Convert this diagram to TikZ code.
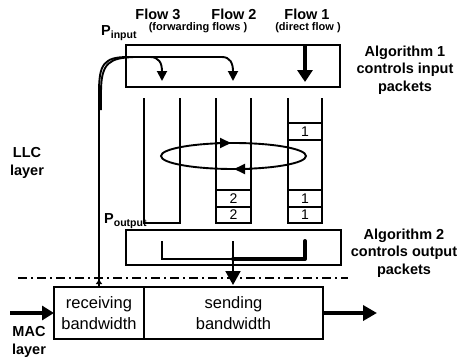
\documentclass[tikz,border=0pt]{standalone}
\usepackage{fontspec}
\setmainfont{Liberation Sans}
\usetikzlibrary{arrows.meta}
\begin{document}
\begin{tikzpicture}[x=1pt,y=-1pt,
  box/.style={draw, line width=2pt, inner sep=0pt, outer sep=0pt, anchor=north west},
  qline/.style={line width=1.9pt},
  lbl/.style={font=\bfseries\fontsize{14.5}{17.5}\selectfont, align=center, inner sep=0pt},
  sublbl/.style={font=\bfseries\fontsize{11}{12}\selectfont, inner sep=0pt},
  cell/.style={font=\fontsize{14}{14}\selectfont, inner sep=0pt},
  bw/.style={font=\fontsize{16.5}{21}\selectfont, align=center, inner sep=0pt},
  flowarrow/.style={line width=1.9pt, -{Triangle[length=10pt,width=10pt]}},
  bigarrow/.style={line width=4pt, -{Triangle[length=13pt,width=14pt]}}
]
\useasboundingbox (0,0) rectangle (458,359);

% boxes
\node[box, minimum width=214pt, minimum height=42pt] (alg1) at (126,45) {};
\node[box, minimum width=215pt, minimum height=35pt] (alg2) at (126,230) {};
\node[box, minimum width=90pt, minimum height=52pt] (recv) at (54,287) {};
\node[box, minimum width=179pt, minimum height=52pt] (send) at (144,287) {};
\node[bw] at (recv.center) {receiving\\bandwidth};
\node[bw] at (send.center) {sending\\bandwidth};

% queues
\draw[qline] (144,98) -- (144,223) -- (180,223) -- (180,98);
\draw[qline] (216,98) -- (216,223) -- (251,223) -- (251,98);
\draw[qline] (288,98) -- (288,223) -- (322,223) -- (322,98);
\draw[qline] (216,190) -- (251,190) (216,207) -- (251,207);
\draw[qline] (288,123) -- (322,123) (288,140) -- (322,140);
\draw[qline] (288,190) -- (322,190) (288,207) -- (322,207);
\node[cell] (c1a) at (305,131.5) {1};
\node[cell] (c1b) at (305,198.5) {1};
\node[cell] (c1c) at (305,215) {1};
\node[cell] (c2a) at (233.5,198.5) {2};
\node[cell] (c2b) at (233.5,215) {2};

% round robin ellipse
\draw[qline] (233.5,156) ellipse [x radius=72.5, y radius=13];
\draw[line width=1.9pt, -{Triangle[length=11pt,width=10pt]}] (215,143) -- (231,143);
\draw[line width=1.9pt, -{Triangle[length=11pt,width=10pt]}] (250,169) -- (234,169);

% input paths
\coordinate (pin) at (99,287);
\draw[flowarrow] (pin) -- (99,92) .. controls (99,64) and (104,57) .. (128,57) -- (150,57) .. controls (159,57) and (162,63) .. (162,81);
\draw[flowarrow] (101,110) -- (101,92) .. controls (101,62) and (110,58) .. (134,57) -- (222,57) .. controls (230,57) and (233,63) .. (233,81);
\draw[line width=1.9pt, -{Latex[length=5pt,width=7pt]}] (pin) -- (99,279);
\draw[bigarrow, -{Triangle[length=12pt,width=15pt]}] (305,46) -- (305,82);

% output bracket
\draw[qline] (162,241) -- (162,259) -- (233,259);
\draw[line width=4pt, line cap=round, line join=round] (233,259) -- (305,259) -- (305,241);
\draw[line width=2pt, -{Triangle[length=14pt,width=15pt]}] (233,241) -- (233,285);

% layer separator
\draw[line width=1.8pt, dash pattern=on 9pt off 4pt on 2pt off 4pt] (18,278) -- (348,278);

% MAC arrows
\coordinate (inL) at (10,313);
\coordinate (outR) at (377,313);
\draw[line width=4pt, -{Triangle[length=12pt,width=14pt]}] (inL) -- (recv.west);
\draw[line width=4pt, -{Triangle[length=14pt,width=15pt]}] (send.east) -- (outR);

% labels
\node[lbl] (f3) at (158,14) {Flow 3};
\node[lbl] (f2) at (234,14) {Flow 2};
\node[lbl] (f1) at (307,14) {Flow 1};
\node[sublbl] (fw) at (198,28) {(forwarding flows )};
\node[sublbl] (df) at (308,28) {(direct flow )};
\node[lbl, anchor=west] (pi) at (101,33) {P\raisebox{-3pt}{\fontsize{10.5}{10}\selectfont input}};
\node[lbl, anchor=west] (po) at (104,221) {P\raisebox{-3pt}{\fontsize{10.5}{10}\selectfont output}};
\node[lbl] (a1) at (405,70) {Algorithm 1\\controls input\\packets};
\node[lbl] (a2) at (404,253) {Algorithm 2\\controls output\\packets};
\node[lbl] (llc) at (27,163) {LLC\\layer};
\node[lbl] (mac) at (29,342) {MAC\\layer};
\end{tikzpicture}
\end{document}
